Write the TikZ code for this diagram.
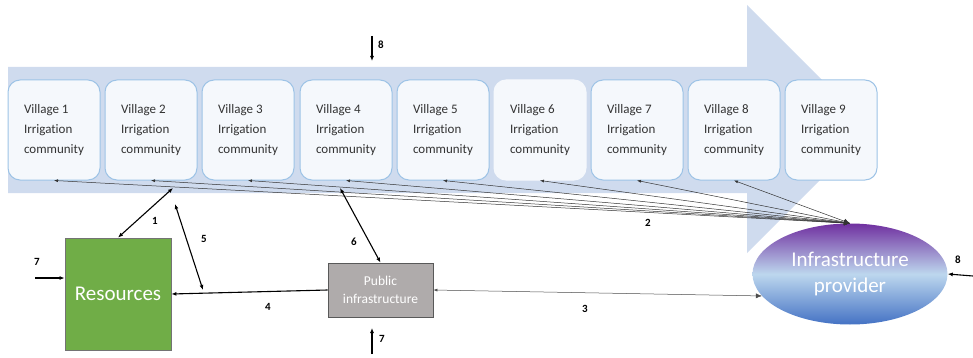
\documentclass[tikz,border=0pt]{standalone}
\usepackage{fontspec}
\setmainfont{Carlito}[Ligatures=NoCommon]
\usetikzlibrary{arrows.meta, shapes.geometric}
\definecolor{vBlue}{HTML}{9DC3E6}
\definecolor{vFill}{HTML}{F5F8FC}
\definecolor{flowBlue}{HTML}{CFDBEE}
\definecolor{resGreen}{HTML}{70AD47}
\definecolor{pubGray}{HTML}{AFABAB}
\definecolor{provTop}{HTML}{7030A0}
\definecolor{provMid}{HTML}{BDD7EE}
\definecolor{provBot}{HTML}{4472C4}

\begin{document}
\begin{tikzpicture}[x=1pt, y=-1pt,
      vil/.style={draw=vBlue, line width=1pt, fill=vFill, rounded corners=12pt,
                  minimum width=92pt, minimum height=100pt, align=left,
                  font=\fontsize{13}{20}\selectfont, text=black!80},
      num/.style={font=\bfseries\fontsize{11}{12}\selectfont},
      heavy/.style={line width=1.1pt, {Latex[length=5pt,width=4pt]}-{Latex[length=5pt,width=4pt]}},
      oneway/.style={line width=1.1pt, -{Latex[length=5pt,width=4pt]}},
      fan/.style={black!80, line width=0.5pt, {Latex[length=4pt,width=3pt]}-{Latex[length=6pt,width=5pt]}}]
    \useasboundingbox (0,0) rectangle (973,358);
    % the flow of water downstream
    \fill[flowBlue] (8,67) -- (747,67) -- (747,5) -- (871,129) -- (747,253)
      -- (747,193) -- (8,193) -- cycle;

    \node[vil] (v1) at (54,130)  {Village 1\\Irrigation\\community};
    \node[vil] (v2) at (151,130) {Village 2\\Irrigation\\community};
    \node[vil] (v3) at (248,130) {Village 3\\Irrigation\\community};
    \node[vil] (v4) at (346,130) {Village 4\\Irrigation\\community};
    \node[vil] (v5) at (443,130) {Village 5\\Irrigation\\community};
    \node[vil, draw=vFill] (v6) at (540,130) {Village 6\\Irrigation\\community};
    \node[vil] (v7) at (637,130) {Village 7\\Irrigation\\community};
    \node[vil] (v8) at (734,130) {Village 8\\Irrigation\\community};
    \node[vil] (v9) at (831,130) {Village 9\\Irrigation\\community};

    \node[draw=black!55, line width=0.8pt, fill=resGreen, minimum width=106pt, minimum height=112pt,
          text=white, font=\fontsize{21}{24}\selectfont] (res) at (118,294) {Resources};
    \node[draw=black!65, line width=0.8pt, fill=pubGray, minimum width=105pt, minimum height=54pt,
          text=white, align=center, font=\fontsize{13.5}{18}\selectfont] (pub) at (380.5,290)
          {Public\\infrastructure};
    \node[ellipse, minimum width=195pt, minimum height=101pt, inner sep=0pt,
          top color=provTop, bottom color=provBot, middle color=provMid,
          text=white, align=center, font=\fontsize{21}{26}\selectfont] (prov) at (850,274)
          {Infrastructure\\provider};

    \coordinate (a1) at (173,188);
    \coordinate (a5s) at (175,204);
    \coordinate (a5e) at (203,290);
    \coordinate (a6) at (340,188);
    \coordinate (in7l) at (35,278);
    \coordinate (in7b) at (372,354);
    \coordinate (to7b) at (372,328);
    \coordinate (in8t) at (372,36);
    \coordinate (to8t) at (372,61);
    \coordinate (in8r) at (973,276);

    \draw[fan] (v1.south) -- (prov.north);
    \draw[fan] (v2.south) -- (prov.north);
    \draw[fan] (v3.south) -- (prov.north);
    \draw[fan] (v4.south) -- (prov.north);
    \draw[fan] (v5.south) -- (prov.north);
    \draw[fan] (v6.south) -- (prov.north);
    \draw[fan] (v7.south) -- (prov.north);
    \draw[fan] (v8.south) -- (prov.north);

    \draw[heavy] (a1) -- (res.north);
    \draw[heavy] (a5s) -- (a5e);
    \draw[heavy] (a6) -- (pub.north);
    \draw[oneway] (pub.west) -- (res.east);
    \draw[fan, black!70] (pub.east) -- (prov.194);
    \draw[oneway] (in7l) -- (in7l -| res.west);
    \draw[oneway] (in7b) -- (to7b);
    \draw[oneway] (in8t) -- (to8t);
    \draw[oneway] (in8r) -- (prov.east);

    \node[num] (n1) at (155,221) {1};
    \node[num] (n2) at (648,223) {2};
    \node[num] (n3) at (585,309) {3};
    \node[num] (n4) at (268,307) {4};
    \node[num] (n5) at (204,239) {5};
    \node[num] (n6) at (354,242) {6};
    \node[num] (n7l) at (37,262) {7};
    \node[num] (n7b) at (382,339) {7};
    \node[num] (n8t) at (381,45) {8};
    \node[num] (n8r) at (958,260) {8};
  \end{tikzpicture}
\end{document}
